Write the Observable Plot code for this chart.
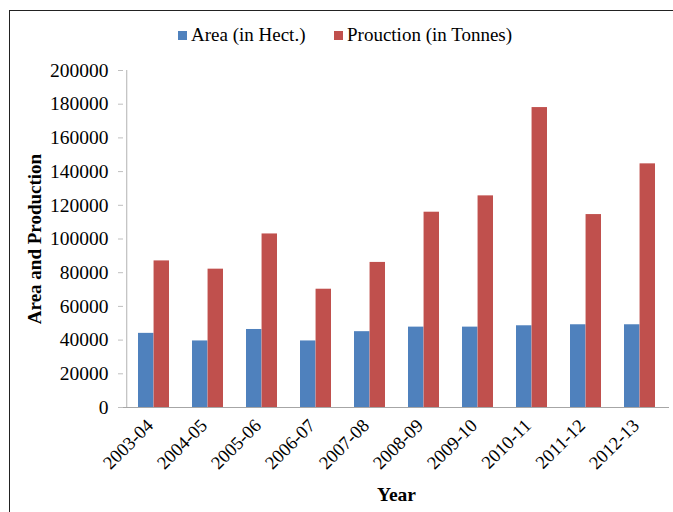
<!DOCTYPE html>
<html>
<head>
<meta charset="utf-8">
<script src="https://cdn.jsdelivr.net/npm/d3@7"></script>
<script src="https://cdn.jsdelivr.net/npm/@observablehq/plot@0.6"></script>
<style>
  html, body { margin: 0; padding: 0; background: #fff; }
  body { width: 673px; height: 512px; overflow: hidden; position: relative; font-family: "Liberation Serif", "Times New Roman", serif; }
  #frame { position: absolute; left: 9px; top: 10px; width: 800px; height: 700px; border: 1.5px solid #222; box-sizing: border-box; pointer-events: none; }
  #legend { position: absolute; left: 0; top: 0; width: 673px; height: 60px; font-size: 19px; color: #000; }
  .item { position: absolute; top: 24px; white-space: nowrap; }
  .sw { display: inline-block; width: 9px; height: 9px; margin-right: 4px; vertical-align: 1px; }
  #chart { position: absolute; left: 0; top: 60px; }
</style>
</head>
<body>
<div id="legend">
  <div class="item" style="left:178px"><span class="sw" style="background:#4F81BD"></span>Area (in Hect.)</div>
  <div class="item" style="left:334px"><span class="sw" style="background:#C0504D"></span>Prouction (in Tonnes)</div>
</div>
<div id="chart"></div>
<div id="frame"></div>
<script>
const years = ["2003-04","2004-05","2005-06","2006-07","2007-08","2008-09","2009-10","2010-11","2011-12","2012-13"];
const area = [44000, 39500, 46300, 39500, 45000, 47700, 47700, 48500, 49100, 49100];
const production = [87000, 82100, 103000, 70200, 86100, 115900, 125600, 178000, 114500, 144600];
const yTicks = [0, 20000, 40000, 60000, 80000, 100000, 120000, 140000, 160000, 180000, 200000];

const W = 673, H = 452, ML = 123, MR = 4, MT = 10, MB = 105;
const padInner = 0.43;
const step = (W - ML - MR) / years.length;
const bw = step * (1 - padInner);
const half = bw / 2;

const table = years.map((y, i) => ({year: y, area: area[i], production: production[i]}));
const font = '"Liberation Serif", "Times New Roman", serif';

const chart = Plot.plot({
  width: W, height: H,
  marginLeft: ML, marginRight: MR, marginTop: MT, marginBottom: MB,
  style: {fontFamily: font, fontSize: "19px", color: "#000", background: "#fff"},
  x: {type: "band", domain: years, paddingInner: padInner, paddingOuter: padInner / 2, label: null},
  y: {domain: [0, 200000], label: null},
  marks: [
    Plot.barY(table, {x: "year", y: "area", fill: "#4F81BD", insetRight: half}),
    Plot.barY(table, {x: "year", y: "production", fill: "#C0504D", insetLeft: half}),
    Plot.ruleY([0], {stroke: "#a6a6a6", strokeWidth: 1.2}),
    Plot.ruleX([years[0]], {dx: -step / 2, stroke: "#bfbfbf", strokeWidth: 1.2}),
    Plot.axisY({ticks: yTicks, tickSize: 5, tickPadding: 10, stroke: "#bfbfbf", fill: "#000", tickFormat: d => String(d), label: null, fontSize: 19.5}),
    Plot.axisX({tickSize: 0, tickPadding: 15, dx: -4, tickRotate: -45, fill: "#000", label: null, fontSize: 18.5}),
    Plot.text(["Area and Production"], {frameAnchor: "left", textAnchor: "middle", lineAnchor: "middle", rotate: -90, dx: -89, fontWeight: "bold", fontSize: 19, fill: "#000"}),
    Plot.text(["Year"], {frameAnchor: "bottom", lineAnchor: "middle", dy: 87, fontWeight: "bold", fontSize: 19.5, fill: "#000"})
  ]
});
document.getElementById("chart").appendChild(chart);
</script>
</body>
</html>
